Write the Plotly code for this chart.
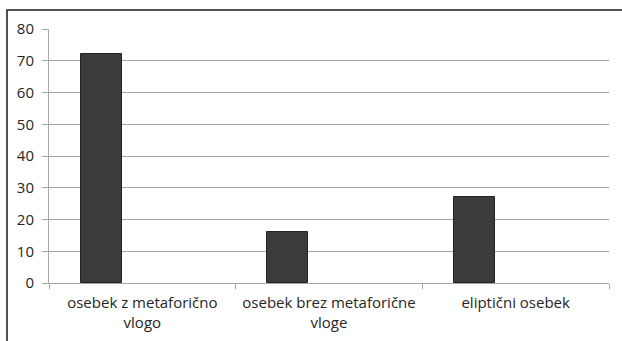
import plotly.graph_objects as go

categories = ["osebek z metaforično<br>vlogo", "osebek brez metaforične<br>vloge", "eliptični osebek"]
values = [72, 16, 27]
y_ticks = [0, 10, 20, 30, 40, 50, 60, 70, 80]

W, H = 622, 341
L, R, T, B = 49, 13, 29, 58
pw, ph = W - L - R, H - T - B

font_family = "Open Sans, sans-serif"
text_color = "#262626"
grid_color = "#a6a6a6"

fig = go.Figure()
fig.add_trace(go.Bar(
    x=categories,
    y=values,
    width=0.22,
    offset=-0.33,
    marker=dict(color="#3b3b3b", line=dict(color="#222222", width=1)),
    hoverinfo="x+y",
))

# outer frame of the chart
fig.add_shape(
    type="rect", xref="paper", yref="paper",
    x0=(7 - L) / pw, x1=(W + 20 - L) / pw,
    y0=-(B + 20) / ph, y1=1 + (T - 10) / ph,
    line=dict(color="#1a1a1a", width=1.5), fillcolor="rgba(0,0,0,0)", layer="above",
)

fig.update_layout(
    width=W, height=H,
    margin=dict(l=L, r=R, t=T, b=B),
    paper_bgcolor="white", plot_bgcolor="white",
    showlegend=False,
    bargap=0,
    font=dict(family=font_family, size=15, color=text_color),
)
fig.update_xaxes(
    automargin=False,
    showline=True, linecolor=grid_color, linewidth=1,
    ticks="outside", tickson="boundaries", ticklen=5, tickcolor=grid_color,
    showgrid=False, ticklabelstandoff=6,
    tickfont=dict(size=15, color=text_color),
)
fig.update_yaxes(
    automargin=False,
    range=[0, 80], tickvals=y_ticks,
    showgrid=True, gridcolor=grid_color, gridwidth=1,
    showline=True, linecolor=grid_color, linewidth=1,
    ticks="outside", ticklen=6, tickcolor=grid_color,
    zeroline=False, ticklabelstandoff=5,
    tickfont=dict(size=15, color=text_color),
)

fig.write_html("out.html")
